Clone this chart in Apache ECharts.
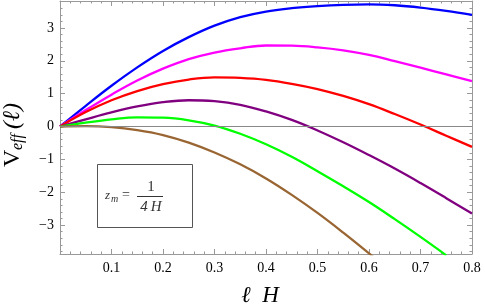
<!DOCTYPE html>
<html>
<head>
<meta charset="utf-8">
<script src="https://cdn.jsdelivr.net/npm/echarts@6/dist/echarts.min.js"></script>
<style>html,body{margin:0;padding:0;background:#fff;}#c{width:485px;height:308px;}</style>
</head>
<body>
<div id="c"></div>
<script>
// x positions (ℓ H)
var xs = [0,0.05,0.1,0.15,0.2,0.25,0.3,0.35,0.4,0.45,0.5,0.55,0.6,0.65,0.7,0.75,0.8];
// V_eff values
var blue    = [0,0.63,1.24,1.80,2.30,2.72,3.07,3.33,3.50,3.60,3.665,3.705,3.72,3.69,3.62,3.52,3.40];
var magenta = [0,0.50,0.97,1.40,1.76,2.05,2.25,2.38,2.465,2.46,2.41,2.32,2.18,1.99,1.79,1.585,1.38];
var red     = [0,0.44,0.80,1.08,1.29,1.43,1.495,1.48,1.42,1.30,1.14,0.93,0.68,0.38,0.06,-0.28,-0.62];
var purple  = [0,0.22,0.43,0.61,0.74,0.80,0.77,0.66,0.46,0.20,-0.12,-0.48,-0.87,-1.28,-1.72,-2.18,-2.65];
var green   = [0,0.12,0.22,0.28,0.27,0.19,0.03,-0.22,-0.54,-0.92,-1.36,-1.82,-2.30,-2.82,-3.36,-3.92];
var brown   = [0,0.01,-0.02,-0.11,-0.26,-0.49,-0.79,-1.15,-1.58,-2.08,-2.63,-3.23,-3.86,-4.5];
var xTickLabels = ['', '0.1','0.2','0.3','0.4','0.5','0.6','0.7','0.8'];
var yTicks = [-3,-2,-1,0,1,2,3];
var yMinorTicks = [];
for (var k = -19; k <= 19; k++) { if (k % 5 !== 0) yMinorTicks.push(k / 5); }

var YMIN = -3.88, YMAX = 3.82;
var FONT = 'Liberation Serif';
var gray = '#999';

function pts(v) { return v.map(function (y, i) { return [xs[i], y]; }); }
function mk(name, v, color) {
  return { name: name, type: 'line', data: pts(v), xAxisIndex: 0, yAxisIndex: 0,
    smooth: 0.4, showSymbol: false, clip: true,
    lineStyle: { color: color, width: 2.3 }, itemStyle: { color: color } };
}

var series = [
  mk('blue', blue, '#0000ff'),
  mk('magenta', magenta, '#ff00ff'),
  mk('red', red, '#ff0000'),
  mk('purple', purple, '#800080'),
  mk('green', green, '#00ff00'),
  mk('brown', brown, '#996633')
];
series[0].markLine = { silent: true, symbol: 'none', label: { show: false },
  lineStyle: { color: '#888', width: 1, type: 'solid' }, data: [{ yAxis: 0 }] };

function xAx(pos, labels) {
  return { type: 'value', position: pos, min: 0, max: 0.8, interval: 0.1,
    axisLine: { show: true, onZero: false, lineStyle: { color: gray, width: 1 } },
    axisTick: { show: true, inside: true, length: 5, lineStyle: { color: gray } },
    minorTick: { show: true, splitNumber: 5, length: 2.5, lineStyle: { color: gray } },
    splitLine: { show: false }, minorSplitLine: { show: false },
    axisLabel: { show: labels, margin: 7, color: '#000', fontFamily: FONT, fontSize: 14,
      formatter: function (v) { return xTickLabels[Math.round(v * 10)]; } }
  };
}
function yAx(pos, major, labels) {
  return { type: 'value', position: pos, min: YMIN, max: YMAX,
    axisLine: { show: major, onZero: false, lineStyle: { color: gray, width: 1 } },
    axisTick: { show: true, inside: true, length: major ? 5 : 2.5, customValues: major ? yTicks : yMinorTicks, lineStyle: { color: gray } },
    splitLine: { show: false },
    axisLabel: { show: labels, customValues: yTicks, margin: 6, color: '#000', fontFamily: FONT, fontSize: 14,
      formatter: function (v) { return v < 0 ? '\u2212' + Math.abs(v) : String(v); } }
  };
}

var xa = xAx('bottom', true);
xa.name = '\u2113  H';
xa.nameLocation = 'middle';
xa.nameGap = 30;
xa.nameTextStyle = { fontFamily: FONT, fontStyle: 'italic', fontSize: 23, color: '#000', padding: [0, 12, 0, 0] };

var chart = echarts.init(document.getElementById('c'), null, { renderer: 'canvas' });
chart.setOption({
  animation: false,
  backgroundColor: '#fff',
  grid: { left: 60, right: 13, top: 1, bottom: 54, containLabel: false, outerBoundsMode: 'none' },
  xAxis: [xa, xAx('top', false)],
  yAxis: [yAx('left', true, true), yAx('left', false, false), yAx('right', true, false), yAx('right', false, false)],
  series: series,
  graphic: [
    { type: 'group', x: 13, y: 167, rotation: Math.PI / 2, children: [
      { type: 'text', x: 0, y: 0, style: { text: 'V', font: '24px "Liberation Serif"', fill: '#000', textAlign: 'left', textVerticalAlign: 'middle' } },
      { type: 'text', x: 17, y: 5, style: { text: 'eff', font: 'italic 16px "Liberation Serif"', fill: '#000', textAlign: 'left', textVerticalAlign: 'middle' } },
      { type: 'text', x: 38, y: 0, style: { text: '(\u2113)', font: 'italic 24px "Liberation Serif"', fill: '#000', textAlign: 'left', textVerticalAlign: 'middle' } }
    ] },
    { type: 'rect', shape: { x: 97.5, y: 164.5, width: 95, height: 63 }, style: { fill: '#fff', stroke: '#555', lineWidth: 1 }, z: 10 },
    { type: 'text', x: 105, y: 196, z: 11, style: { text: 'z', font: 'italic 13px "Liberation Serif"', fill: '#333', textVerticalAlign: 'middle' } },
    { type: 'text', x: 111, y: 199, z: 11, style: { text: 'm', font: 'italic 10px "Liberation Serif"', fill: '#333', textVerticalAlign: 'middle' } },
    { type: 'text', x: 126, y: 195, z: 11, style: { text: '=', font: '14px "Liberation Serif"', fill: '#333', textAlign: 'center', textVerticalAlign: 'middle' } },
    { type: 'text', x: 151, y: 187, z: 11, style: { text: '1', font: '15px "Liberation Serif"', fill: '#333', textAlign: 'center', textVerticalAlign: 'middle' } },
    { type: 'line', z: 11, shape: { x1: 137, y1: 196.5, x2: 163, y2: 196.5 }, style: { stroke: '#333', lineWidth: 1 } },
    { type: 'text', x: 151, y: 207, z: 11, style: { text: '4\u2009H', font: 'italic 15px "Liberation Serif"', fill: '#333', textAlign: 'center', textVerticalAlign: 'middle' } }
  ]
});
</script>
</body>
</html>
